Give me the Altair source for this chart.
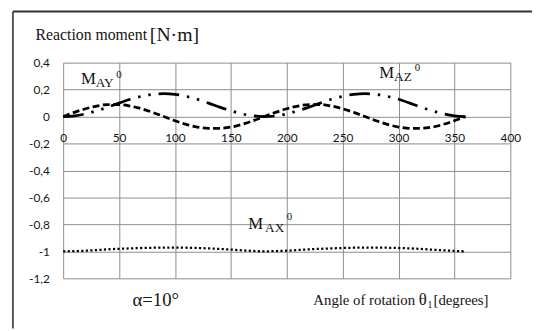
import altair as alt
import pandas as pd

# ---- data ----
angle = list(range(0, 361, 10))
m_ay = [0.0, 0.031, 0.058, 0.078, 0.089, 0.089, 0.078, 0.058, 0.031, 0.0,
        -0.031, -0.058, -0.078, -0.087, -0.087, -0.078, -0.058, -0.031, 0.0,
        0.031, 0.058, 0.078, 0.089, 0.089, 0.078, 0.058, 0.031, 0.0,
        -0.031, -0.058, -0.078, -0.087, -0.087, -0.078, -0.058, -0.031, 0.0]
m_az = [0.0, 0.005, 0.02, 0.043, 0.07, 0.1, 0.128, 0.15, 0.165, 0.17,
        0.165, 0.15, 0.128, 0.1, 0.07, 0.043, 0.02, 0.005, 0.0,
        0.005, 0.02, 0.043, 0.07, 0.1, 0.128, 0.15, 0.165, 0.17,
        0.165, 0.15, 0.128, 0.1, 0.07, 0.043, 0.02, 0.005, 0.0]
m_ax = [-1.0, -0.998, -0.995, -0.99, -0.985, -0.981, -0.978, -0.975, -0.973, -0.972,
        -0.972, -0.973, -0.975, -0.978, -0.982, -0.987, -0.992, -0.997, -1.0,
        -0.998, -0.995, -0.99, -0.985, -0.981, -0.978, -0.975, -0.973, -0.972,
        -0.972, -0.973, -0.975, -0.978, -0.982, -0.987, -0.992, -0.997, -1.0]
x_ticks = [0, 50, 100, 150, 200, 250, 300, 350, 400]
y_ticks = [-1.2, -1.0, -0.8, -0.6, -0.4, -0.2, 0.0, 0.2, 0.4]

df = pd.DataFrame({"angle": angle, "MAY": m_ay, "MAZ": m_az, "MAX": m_ax})

SERIF = "Liberation Serif"
SANS = "Lato"
GRID = "#8c8c8c"
INK = "#141414"
W, H = 454, 219

xs = alt.Scale(domain=[0, 400], nice=False)
ys = alt.Scale(domain=[-1.2, 0.4], nice=False)

x_axis = alt.Axis(values=x_ticks, grid=True, gridColor=GRID, gridWidth=1,
                  domain=False, ticks=False, offset=-164.25, labelPadding=16,
                  labelFont=SANS, labelFontSize=12, labelColor=INK,
                  labelFlush=False, labelOverlap=False, title=None)
y_axis = alt.Axis(values=y_ticks, grid=True, gridColor=GRID, gridWidth=1,
                  domain=False, ticks=False, labelPadding=14,
                  labelFont=SANS, labelFontSize=12, labelColor=INK,
                  labelFlush=False, labelOverlap=False, title=None,
                  labelExpr="replace(replace(format(datum.value, '.1~f'), '.', ','), '\u2212', '-')")

base = alt.Chart(df).encode(x=alt.X("angle:Q", scale=xs, axis=x_axis))

line_ay = base.mark_line(color="black", strokeWidth=2.8, strokeDash=[7, 3.5],
                         interpolate="monotone").encode(
    y=alt.Y("MAY:Q", scale=ys, axis=y_axis))
line_az = base.mark_line(color="black", strokeWidth=2.8,
                         strokeDash=[21, 8, 2.5, 8, 2.5, 8],
                         interpolate="monotone").encode(
    y=alt.Y("MAZ:Q", scale=ys, axis=y_axis))
line_ax = base.mark_line(color="black", strokeWidth=2.3, strokeDash=[2.2, 2.4],
                         interpolate="monotone").encode(
    y=alt.Y("MAX:Q", scale=ys, axis=y_axis))


def label(txt, px, py, size, align="left", font=SERIF):
    return alt.Chart(pd.DataFrame({"t": [txt]})).mark_text(
        align=align, baseline="alphabetic", font=font, fontSize=size, color=INK
    ).encode(x=alt.value(px), y=alt.value(py), text="t:N")


one = pd.DataFrame({"k": [0]})
border_top = alt.Chart(one).mark_rule(color="#333333", strokeWidth=2).encode(
    x=alt.value(-51), x2=alt.value(476), y=alt.value(-52))
border_left = alt.Chart(one).mark_rule(color="#555555", strokeWidth=2).encode(
    x=alt.value(-51), y=alt.value(-52), y2=alt.value(270))

texts = [
    label("Reaction moment", -28, -23, 16),
    label("[N\u00b7m]", 88, -22, 20),
    label("M", 18, 22, 17), label("AY", 33, 25, 13.5), label("0", 54, 16, 11),
    label("M", 321, 16, 17), label("AZ", 336, 19, 13.5), label("0", 357, 9, 11),
    label("M", 188, 169, 17), label("AX", 205, 172, 13.5), label("0", 227, 160, 11),
    label("\u03b1=10\u00b0", 94, 247, 19, align="center"),
    label("Angle of rotation", 254, 246, 15),
    label("\u03b8", 361, 246, 17), label("1", 370, 249, 10),
    label("[degrees]", 376, 246, 15),
]

chart = alt.layer(line_ay, line_az, line_ax, border_top, border_left, *texts).properties(
    width=W, height=H,
    autosize=alt.AutoSizeParams(type="none"),
    padding={"left": 56, "top": 53, "right": 22, "bottom": 51},
).configure_view(stroke="transparent")

chart.save("out.html", embed_options={"renderer": "svg", "actions": False})
